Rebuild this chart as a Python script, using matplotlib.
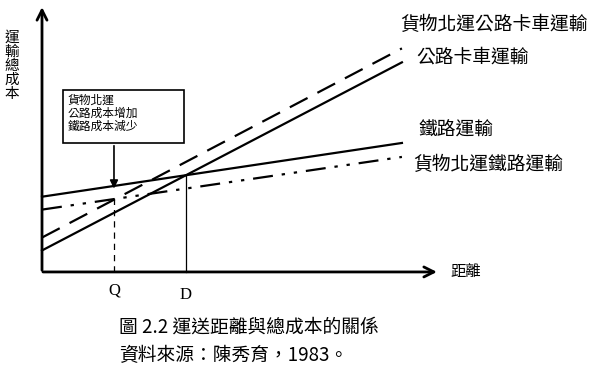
import matplotlib.pyplot as plt
from matplotlib.patches import Rectangle

plt.rcParams['font.family'] = ['Noto Sans CJK TC', 'DejaVu Sans']

# cost lines: value at distance 0 and at distance 10
names = ["公路卡車運輸", "貨物北運公路卡車運輸", "鐵路運輸", "貨物北運鐵路運輸"]
x_ends = [0, 10]
truck = [1.0, 9.75]
truck_north = [1.6, 10.4]
rail = [3.5, 6.0]
rail_north = [2.9, 5.35]

q_dist, q_cost = 2.0, 3.45
d_dist, d_cost = 4.0, 4.5

fig = plt.figure(figsize=(6.06, 3.76), dpi=100)
ax = fig.add_axes([0, 0, 1, 1])
ax.set_xlim(-1.167, 15.67)
ax.set_ylim(-4.84, 12.65)
ax.axis("off")

# axes with arrows
ax.annotate("", xy=(0, 12.45), xytext=(0, -0.05),
            arrowprops=dict(arrowstyle="->", lw=2, color="black", mutation_scale=18))
ax.annotate("", xy=(11.05, 0), xytext=(-0.05, 0),
            arrowprops=dict(arrowstyle="->", lw=2, color="black", mutation_scale=18))

ax.plot(x_ends, truck, color="black", lw=1.6)
ax.plot(x_ends, truck_north, color="black", lw=1.6, dashes=(9, 5))
ax.plot(x_ends, rail, color="black", lw=1.6)
ax.plot(x_ends, rail_north, color="black", lw=1.6, dashes=(9, 4, 1.5, 4, 1.5, 4))

# Q and D markers
ax.plot([q_dist, q_dist], [0, q_cost], color="black", lw=0.9, dashes=(5, 4))
ax.plot([d_dist, d_dist], [0, d_cost], color="black", lw=0.9)
ax.text(q_dist, -0.5, "Q", fontsize=12, family="Liberation Serif", ha="center", va="top")
ax.text(d_dist, -0.7, "D", fontsize=12, family="Liberation Serif", ha="center", va="top")

# annotation box
ax.add_patch(Rectangle((0.58, 6.0), 3.36, 2.47, fill=False, lw=1.2, ec="black"))
ax.text(0.72, 8.3, "貨物北運\n公路成本增加\n鐵路成本減少", fontsize=8.5,
        va="top", ha="left", linespacing=1.0)
ax.annotate("", xy=(q_dist, 3.75), xytext=(q_dist, 6.0),
            arrowprops=dict(arrowstyle="-|>", lw=1.2, color="black", mutation_scale=12))

# line labels
ax.text(9.95, 11.5, names[1], fontsize=13.5, va="center", ha="left")
ax.text(10.4, 10.0, names[0], fontsize=13.5, va="center", ha="left")
ax.text(10.45, 6.6, names[2], fontsize=13.5, va="center", ha="left")
ax.text(10.3, 5.0, names[3], fontsize=13.5, va="center", ha="left")

ax.text(11.35, 0, "距離", fontsize=11, va="center", ha="left")
ax.text(-0.85, 9.6, "運\n輸\n總\n成\n本", fontsize=10.5, va="center", ha="center",
        linespacing=1.0)

# caption
ax.text(2.15, -2.55, "圖 2.2 運送距離與總成本的關係", fontsize=13.5, va="center", ha="left")
ax.text(2.15, -3.9, "資料來源：陳秀育，1983。", fontsize=13.5, va="center", ha="left")

fig.savefig("out.png", dpi=100)
